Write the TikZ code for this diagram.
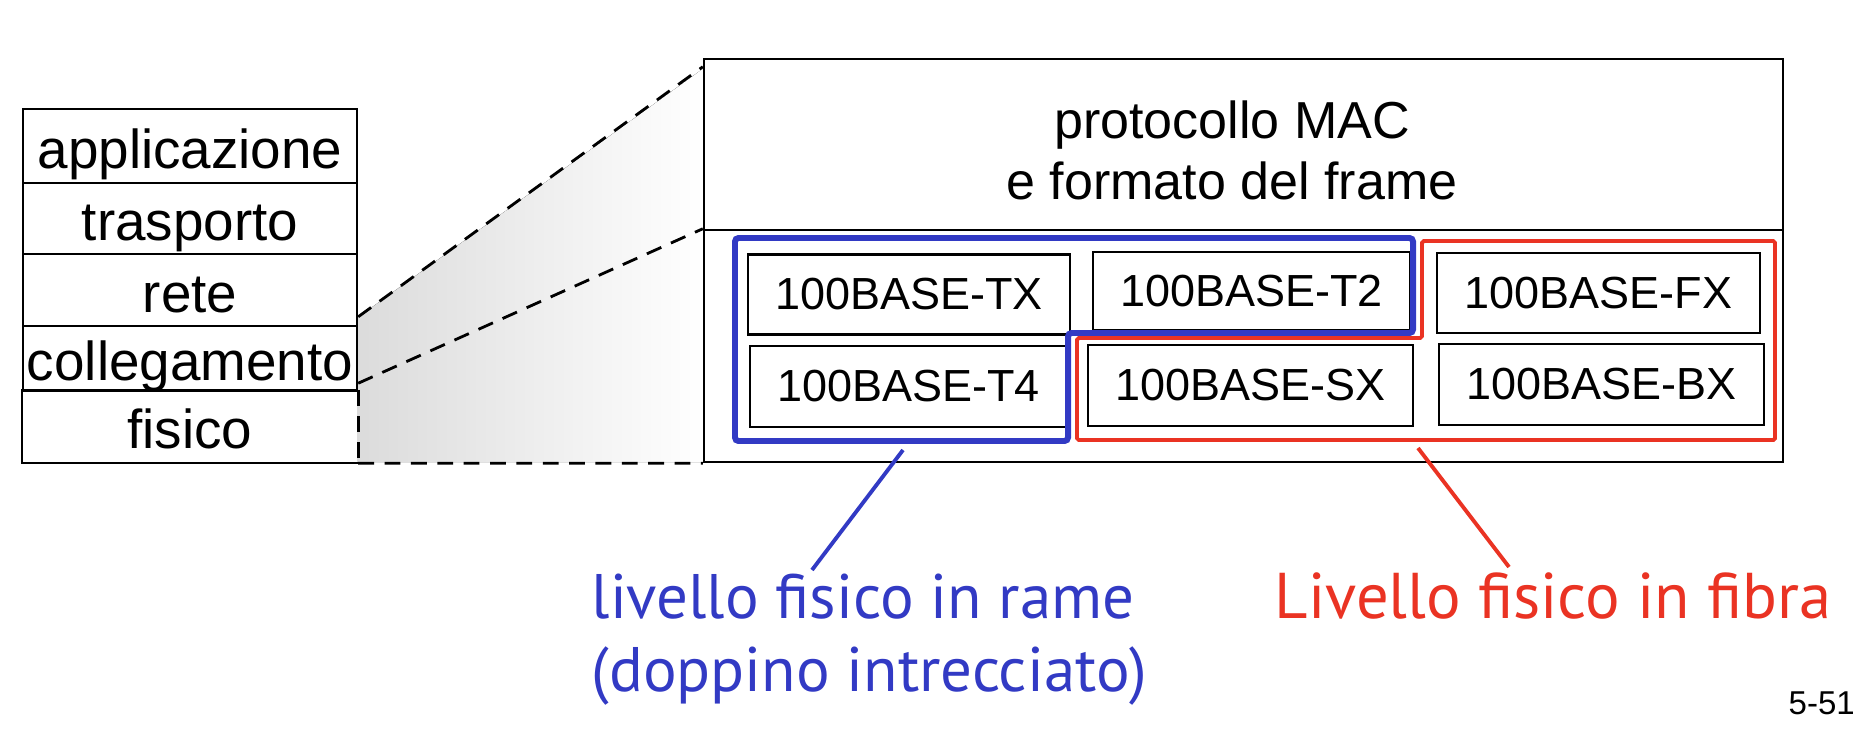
\documentclass[tikz,border=0pt]{standalone}
\usepackage{fontspec}
\setmainfont{Liberation Sans}
\newfontfamily\notefont{PT Sans}
\usetikzlibrary{positioning}
\definecolor{rameblu}{RGB}{50,58,196}
\definecolor{fibrarosso}{RGB}{234,51,35}
\tikzset{
  layerbox/.style={draw, line width=0.7pt, minimum width=3.34cm, inner sep=0pt, text height=14.5pt, text depth=1.7pt, font=\fontsize{15.6}{18}\selectfont},
  basebox/.style={draw, line width=0.6pt, minimum height=0.8cm, inner sep=0pt, font=\fontsize{12.8}{15}\selectfont},
  zoomline/.style={line width=0.8pt, dash pattern=on 4.5pt off 3pt},
  notelabel/.style={inner sep=0pt, align=left, font=\notefont\fontsize{17.9}{20.8}\selectfont},
}
\begin{document}
\begin{tikzpicture}
    \useasboundingbox (0,0) rectangle (18.56,7.44);
    \fill[left color=black!14, right color=white] (3.57,4.26) -- (7.04,6.76) -- (7.04,2.82) -- (3.57,2.82) -- cycle;

    \node[layerbox, minimum height=0.74cm] (app) at (1.90,5.98) {applicazione};
    \node[layerbox, minimum height=0.71cm] (tra) at (1.90,5.255) {trasporto};
    \node[layerbox, minimum height=0.72cm] (ret) at (1.90,4.54) {rete};
    \node[layerbox, minimum height=0.65cm] (col) at (1.90,3.855) {collegamento};
    \node[layerbox, draw=none, minimum height=0.71cm] (fis) at (1.90,3.175) {fisico};
    \draw[line width=0.7pt] (fis.north east) -- (fis.north west) -- (fis.south west) -- (fis.south east);
    \draw[zoomline] (fis.north east) -- (fis.south east);

    \node[draw, line width=0.7pt, minimum width=10.79cm, minimum height=1.71cm, inner sep=0pt] (mactop) at (12.435,5.995) {};
    \node[align=center, inner sep=0pt, font=\fontsize{14.8}{17.4}\selectfont] (mac) at (12.32,5.94) {protocollo MAC\\e formato del frame};
    \node[draw, line width=0.7pt, minimum width=10.79cm, minimum height=2.32cm, inner sep=0pt] (macbot) at (12.435,3.98) {};

    \draw[zoomline] ([yshift=0.08cm]col.north east) -- ([yshift=-0.09cm]mactop.north west);
    \draw[zoomline] ([yshift=0.09cm]col.south east) -- (macbot.north west);
    \draw[zoomline] (fis.south east) -- (macbot.south west);

    \node[basebox, minimum width=3.22cm] (tx) at (9.09,4.495) {100BASE-TX};
    \node[basebox, minimum width=3.17cm, minimum height=0.78cm] (t2) at (12.515,4.53) {100BASE-T2};
    \node[basebox, minimum width=3.23cm] (fx) at (15.985,4.51) {100BASE-FX};
    \node[basebox, minimum width=3.17cm, minimum height=0.81cm] (t4) at (9.085,3.575) {100BASE-T4};
    \node[basebox, minimum width=3.25cm, minimum height=0.81cm] (sx) at (12.505,3.585) {100BASE-SX};
    \node[basebox, minimum width=3.25cm, minimum height=0.81cm] (bx) at (16.015,3.595) {100BASE-BX};

    \draw[fibrarosso, line width=1.1pt, rounded corners=0.5pt] (14.22,5.03) -- (17.75,5.03) -- (17.75,3.04) -- (10.77,3.04) -- (10.77,4.06) -- (14.22,4.06) -- cycle;
    \draw[rameblu, line width=1.7pt, rounded corners=1pt] (7.35,5.06) -- (14.13,5.06) -- (14.13,4.11) -- (10.68,4.11) -- (10.68,3.03) -- (7.35,3.03) -- cycle;

    \node[notelabel, text=rameblu, anchor=north west] (rame) at (5.91,1.71) {livello fisico in rame\\(doppino intrecciato)};
    \node[notelabel, text=fibrarosso, anchor=north west, font=\notefont\fontsize{18.4}{21}\selectfont] (fibra) at (12.74,1.72) {Livello fisico in fibra};
    \coordinate (rametop) at (9.03,2.94);
    \coordinate (ramecoda) at (8.12,1.74);
    \coordinate (fibratop) at (14.18,2.96);
    \coordinate (fibracoda) at (15.09,1.77);
    \draw[rameblu, line width=1.1pt] (rametop) -- (ramecoda);
    \draw[fibrarosso, line width=1.1pt] (fibratop) -- (fibracoda);

    \node[anchor=north west, inner sep=0pt, font=\fontsize{9.4}{11}\selectfont] (pagina) at (17.88,0.53) {5-51};
\end{tikzpicture}
\end{document}
